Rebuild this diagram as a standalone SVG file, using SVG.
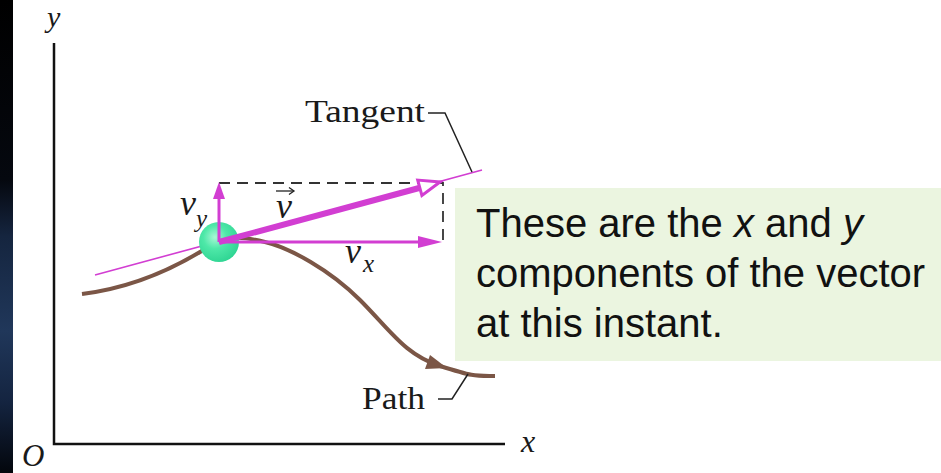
<svg xmlns="http://www.w3.org/2000/svg" width="941" height="473" viewBox="0 0 941 473">
  <style>
    .serif { font-family: "Liberation Serif", "Times New Roman", serif; fill: #1a1a1a; }
    .ital { font-style: italic; }
    .sans { font-family: "Liberation Sans", Arial, sans-serif; fill: #111; font-size: 40px; }
    .axis { stroke: #111; stroke-width: 2.5; fill: none; }
    .lead { stroke: #222; stroke-width: 1.5; fill: none; }
    .mag { stroke: #d23ed2; fill: none; }
    .dash { stroke: #333; stroke-width: 1.8; stroke-dasharray: 11 7; fill: none; }
  </style>
  <defs>
    <linearGradient id="strip" x1="0" y1="0" x2="0" y2="1">
      <stop offset="0" stop-color="#000000"/>
      <stop offset="0.38" stop-color="#05080f"/>
      <stop offset="0.5" stop-color="#15253f"/>
      <stop offset="0.7" stop-color="#20375a"/>
      <stop offset="0.85" stop-color="#142440"/>
      <stop offset="1" stop-color="#03060c"/>
    </linearGradient>
    <radialGradient id="ball" cx="0.4" cy="0.38" r="0.65">
      <stop offset="0" stop-color="#a8f7d6"/>
      <stop offset="0.45" stop-color="#4ee8a8"/>
      <stop offset="1" stop-color="#2fd593"/>
    </radialGradient>
  </defs>

  <rect x="0" y="0" width="941" height="473" fill="#ffffff"/>
  <rect x="0" y="0" width="13" height="473" fill="url(#strip)"/>

  <!-- axes -->
  <g id="axes">
    <polyline class="axis" points="54,43 54,444 505,444"/>
    <text class="serif ital" x="47" y="27" font-size="30">y</text>
    <text class="serif ital" x="521" y="452" font-size="32">x</text>
    <text class="serif ital" x="22" y="466" font-size="31">O</text>
  </g>

  <!-- callout box -->
  <g id="callout">
    <rect x="455" y="188" width="486" height="173" fill="#ebf5e0"/>
    <text class="sans" x="476" y="237">These are the <tspan font-style="italic">x</tspan> and <tspan font-style="italic">y</tspan></text>
    <text class="sans" x="476" y="287">components of the vector</text>
    <text class="sans" x="476" y="337">at this instant.</text>
  </g>

  <!-- path curve -->
  <g id="path">
    <path d="M 82 294 C 130 288, 170 270, 200 252 S 240 236, 265 242 S 330 270, 360 300 S 405 355, 440 366 S 475 376, 495 376" stroke="#7b5646" stroke-width="4" fill="none"/>
    <polygon points="447,368 430,355 425,369" fill="#7b5646"/>
    <text class="serif" x="362" y="409" font-size="32" textLength="63" lengthAdjust="spacingAndGlyphs">Path</text>
  </g>

  <!-- tangent line -->
  <g id="tangent">
    <line class="mag" x1="95" y1="275" x2="482" y2="170" stroke-width="1.6"/>
    <text class="serif" x="305" y="122" font-size="32" textLength="120" lengthAdjust="spacingAndGlyphs">Tangent</text>
  </g>

  <!-- particle -->
  <g id="particle">
    <circle cx="219" cy="242" r="20" fill="url(#ball)"/>
  </g>

  <!-- connectors -->
  <g id="connectors">
    <polyline class="lead" points="428,113 445,113 472,172"/>
    <polyline class="lead" points="438,399 452,399 468,374"/>
    <polyline class="dash" points="219,183 443,183 443,242"/>
    <!-- v_y -->
    <line class="mag" x1="219" y1="242" x2="219" y2="197" stroke-width="3"/>
    <polygon points="219,182 213,199 225,199" fill="#d23ed2"/>
    <!-- v_x -->
    <line class="mag" x1="219" y1="242" x2="420" y2="242" stroke-width="3"/>
    <polygon points="442,242 418,236 418,248" fill="#d23ed2"/>
    <!-- v -->
    <line class="mag" x1="219" y1="242" x2="421" y2="187.5" stroke-width="6"/>
    <polygon points="440,182 421.9,195.5 417.7,180.1" fill="#ffffff" stroke="#d23ed2" stroke-width="3" stroke-linejoin="miter"/>
  </g>

  <!-- vector labels -->
  <g id="labels">
    <text class="serif ital" x="180" y="215" font-size="36">v</text>
    <text class="serif ital" x="196" y="227" font-size="25">y</text>
    <text class="serif ital" x="276" y="218" font-size="36">v</text>
    <line x1="276" y1="191" x2="293" y2="191" stroke="#222" stroke-width="1.3"/>
    <polyline points="289,187.5 294,191 289,194.5" stroke="#222" stroke-width="1.3" fill="none"/>
    <text class="serif ital" x="345" y="263" font-size="36">v</text>
    <text class="serif ital" x="363" y="272" font-size="25">x</text>
  </g>
</svg>
